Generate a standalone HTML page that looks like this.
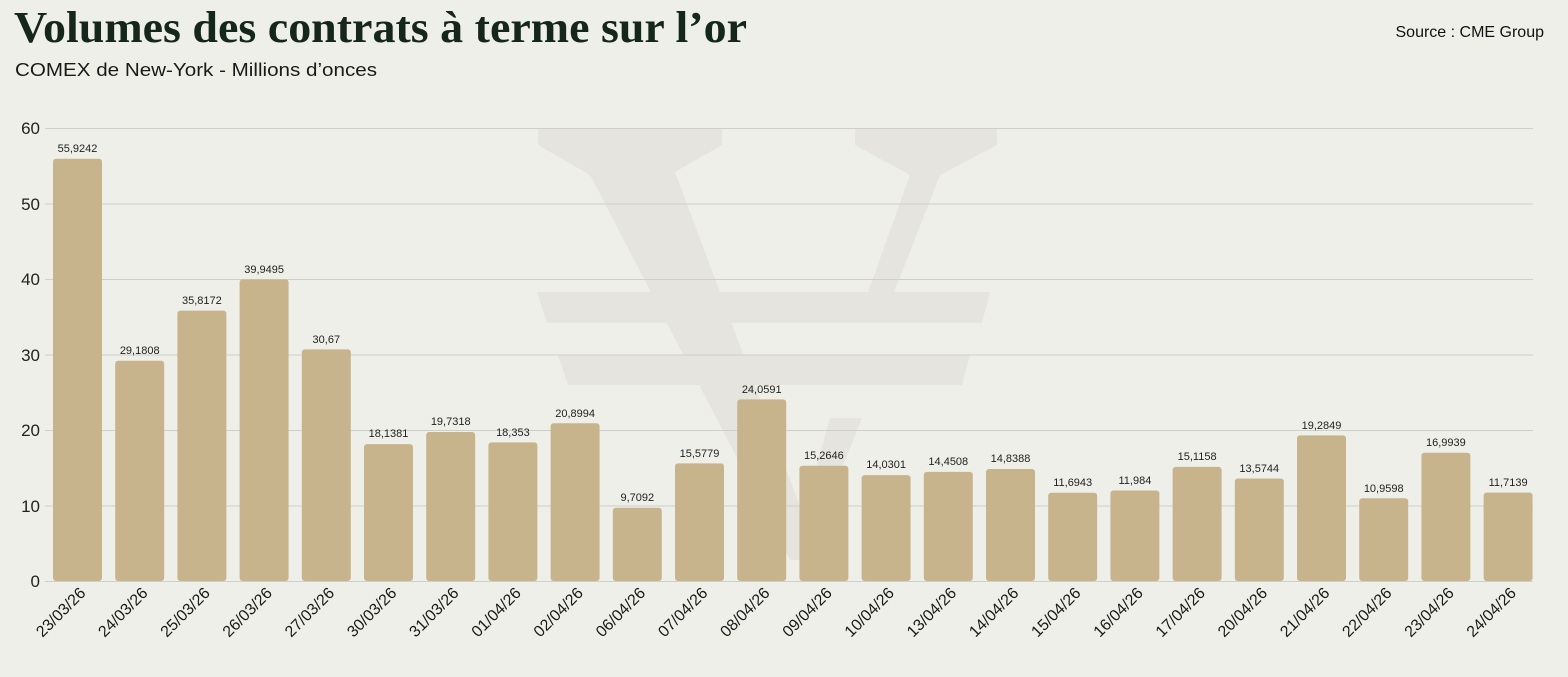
<!DOCTYPE html>
<html><head><meta charset="utf-8"><style>
html,body{margin:0;padding:0;background:#efefea;}
svg{display:block;}
</style></head><body>
<svg width="1568" height="677" viewBox="0 0 1568 677" xmlns="http://www.w3.org/2000/svg">
<rect width="1568" height="677" fill="#efefea"/>
<g fill="#e5e4de">
<polygon points="538,128 722,128 722,145 675,172 820,560 790,560 590,175 538,145"/>
<polygon points="855,128 997,128 997,145 940,175 893,295 867,295 910,175 855,145"/>
<polygon points="537,292 990,292 982,323 547,323"/>
<polygon points="558,355 970,355 962,385 568,385"/>
<polygon points="830,418 862,418 805,560 790,560"/>
</g>
<text x="14" y="42" font-family="Liberation Serif, serif" font-weight="bold" font-size="44" fill="#15261a" textLength="733" lengthAdjust="spacingAndGlyphs">Volumes des contrats à terme sur l’or</text>
<text x="15" y="76" font-family="Liberation Sans, sans-serif" font-size="18" fill="#1a1a1a" textLength="362" lengthAdjust="spacingAndGlyphs">COMEX de New-York - Millions d’onces</text>
<text x="1544" y="37" text-anchor="end" font-family="Liberation Sans, sans-serif" font-size="16" fill="#111">Source : CME Group</text>
<g stroke="#cfcfca" stroke-width="1">
<line x1="45" x2="1533" y1="128.5" y2="128.5"/>
<line x1="45" x2="1533" y1="204" y2="204"/>
<line x1="45" x2="1533" y1="279.5" y2="279.5"/>
<line x1="45" x2="1533" y1="355" y2="355"/>
<line x1="45" x2="1533" y1="430.5" y2="430.5"/>
<line x1="45" x2="1533" y1="506" y2="506"/>
<line x1="45" x2="1533" y1="581.5" y2="581.5"/>
</g>
<g font-family="Liberation Sans, sans-serif" font-size="17" fill="#222" text-anchor="end">
<text x="40" y="134">60</text><text x="40" y="210">50</text><text x="40" y="285">40</text>
<text x="40" y="361">30</text><text x="40" y="436">20</text><text x="40" y="512">10</text><text x="40" y="587">0</text>
</g>
<g fill="#c8b48c">
<rect x="53" y="158.8" width="49" height="422.2" rx="3"/>
<rect x="115.2" y="360.7" width="49" height="220.3" rx="3"/>
<rect x="177.4" y="310.6" width="49" height="270.4" rx="3"/>
<rect x="239.6" y="279.4" width="49" height="301.6" rx="3"/>
<rect x="301.8" y="349.4" width="49" height="231.6" rx="3"/>
<rect x="364" y="444.1" width="49" height="136.9" rx="3"/>
<rect x="426.2" y="432" width="49" height="149" rx="3"/>
<rect x="488.4" y="442.4" width="49" height="138.6" rx="3"/>
<rect x="550.6" y="423.2" width="49" height="157.8" rx="3"/>
<rect x="612.8" y="507.7" width="49" height="73.3" rx="3"/>
<rect x="675" y="463.4" width="49" height="117.6" rx="3"/>
<rect x="737.2" y="399.4" width="49" height="181.6" rx="3"/>
<rect x="799.4" y="465.8" width="49" height="115.2" rx="3"/>
<rect x="861.6" y="475.1" width="49" height="105.9" rx="3"/>
<rect x="923.8" y="471.9" width="49" height="109.1" rx="3"/>
<rect x="986" y="469" width="49" height="112" rx="3"/>
<rect x="1048.2" y="492.7" width="49" height="88.3" rx="3"/>
<rect x="1110.4" y="490.5" width="49" height="90.5" rx="3"/>
<rect x="1172.6" y="466.9" width="49" height="114.1" rx="3"/>
<rect x="1234.8" y="478.5" width="49" height="102.5" rx="3"/>
<rect x="1297" y="435.4" width="49" height="145.6" rx="3"/>
<rect x="1359.2" y="498.3" width="49" height="82.7" rx="3"/>
<rect x="1421.4" y="452.7" width="49" height="128.3" rx="3"/>
<rect x="1483.6" y="492.6" width="49" height="88.4" rx="3"/>
</g>
<g font-family="Liberation Sans, sans-serif" font-size="11" fill="#222" text-anchor="middle">
<text x="77.5" y="152">55,9242</text>
<text x="139.7" y="354">29,1808</text>
<text x="201.9" y="304">35,8172</text>
<text x="264.1" y="273">39,9495</text>
<text x="326.3" y="343">30,67</text>
<text x="388.5" y="437">18,1381</text>
<text x="450.7" y="425">19,7318</text>
<text x="512.9" y="436">18,353</text>
<text x="575.1" y="417">20,8994</text>
<text x="637.3" y="501">9,7092</text>
<text x="699.5" y="457">15,5779</text>
<text x="761.7" y="393">24,0591</text>
<text x="823.9" y="459">15,2646</text>
<text x="886.1" y="468">14,0301</text>
<text x="948.3" y="465">14,4508</text>
<text x="1010.5" y="462">14,8388</text>
<text x="1072.7" y="486">11,6943</text>
<text x="1134.9" y="484">11,984</text>
<text x="1197.1" y="460">15,1158</text>
<text x="1259.3" y="472">13,5744</text>
<text x="1321.5" y="429">19,2849</text>
<text x="1383.7" y="492">10,9598</text>
<text x="1445.9" y="446">16,9939</text>
<text x="1508.1" y="486">11,7139</text>
</g>
<g font-family="Liberation Sans, sans-serif" font-size="16" fill="#1a1a1a" text-anchor="end">
<text transform="translate(86.5,594) rotate(-45)">23/03/26</text>
<text transform="translate(148.7,594) rotate(-45)">24/03/26</text>
<text transform="translate(210.9,594) rotate(-45)">25/03/26</text>
<text transform="translate(273.1,594) rotate(-45)">26/03/26</text>
<text transform="translate(335.3,594) rotate(-45)">27/03/26</text>
<text transform="translate(397.5,594) rotate(-45)">30/03/26</text>
<text transform="translate(459.7,594) rotate(-45)">31/03/26</text>
<text transform="translate(521.9,594) rotate(-45)">01/04/26</text>
<text transform="translate(584.1,594) rotate(-45)">02/04/26</text>
<text transform="translate(646.3,594) rotate(-45)">06/04/26</text>
<text transform="translate(708.5,594) rotate(-45)">07/04/26</text>
<text transform="translate(770.7,594) rotate(-45)">08/04/26</text>
<text transform="translate(832.9,594) rotate(-45)">09/04/26</text>
<text transform="translate(895.1,594) rotate(-45)">10/04/26</text>
<text transform="translate(957.3,594) rotate(-45)">13/04/26</text>
<text transform="translate(1019.5,594) rotate(-45)">14/04/26</text>
<text transform="translate(1081.7,594) rotate(-45)">15/04/26</text>
<text transform="translate(1143.9,594) rotate(-45)">16/04/26</text>
<text transform="translate(1206.1,594) rotate(-45)">17/04/26</text>
<text transform="translate(1268.3,594) rotate(-45)">20/04/26</text>
<text transform="translate(1330.5,594) rotate(-45)">21/04/26</text>
<text transform="translate(1392.7,594) rotate(-45)">22/04/26</text>
<text transform="translate(1454.9,594) rotate(-45)">23/04/26</text>
<text transform="translate(1517.1,594) rotate(-45)">24/04/26</text>
</g>
</svg>
</body></html>
